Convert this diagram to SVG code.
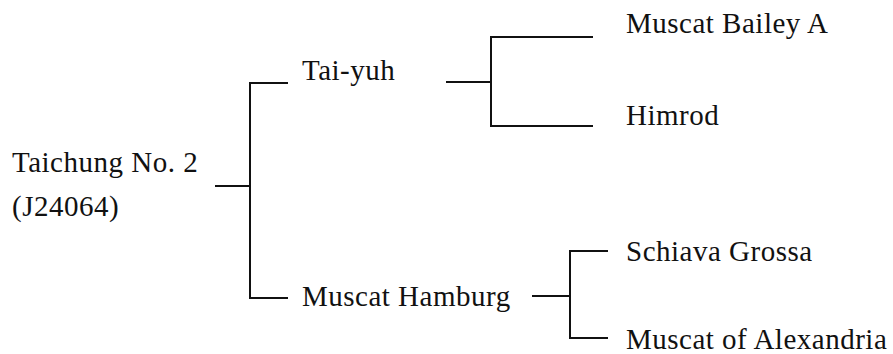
<svg xmlns="http://www.w3.org/2000/svg" width="893" height="354" viewBox="0 0 893 354">
<style>
text{font-family:"Liberation Serif","Times New Roman",serif;font-size:29px;letter-spacing:0.5px;fill:#111}
.c path{fill:none;stroke:#111;stroke-width:2}
</style>
<rect width="893" height="354" fill="#fff"/>
<g class="c" id="connectors">
<path d="M215,186H250M288,83H250V298H288"/>
<path d="M446,82H491M593,37H491V126H593"/>
<path d="M532,296H570M608,251H570V338H608"/>
</g>
<g id="taichung"><text x="12" y="172">Taichung No. 2</text><text x="12" y="216">(J24064)</text></g>
<g id="taiyuh"><text x="302" y="80">Tai-yuh</text></g>
<g id="hamburg"><text x="302" y="306">Muscat Hamburg</text></g>
<g id="bailey"><text x="626" y="33">Muscat Bailey A</text></g>
<g id="himrod"><text x="626" y="125">Himrod</text></g>
<g id="schiava"><text x="626" y="261">Schiava Grossa</text></g>
<g id="alexandria"><text x="626" y="349">Muscat of Alexandria</text></g>
</svg>
